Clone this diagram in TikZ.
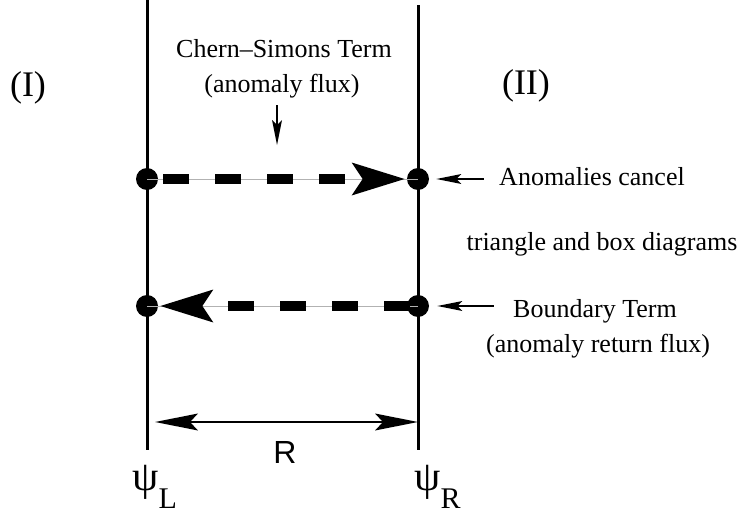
\documentclass[tikz,border=0pt]{standalone}
\usepackage{fontspec}
\setmainfont{Liberation Serif}
\newfontfamily\sanslabel{Liberation Sans}
\usetikzlibrary{arrows.meta}

\tikzset{
  wall/.style={line width=1.5pt},
  dot/.style={circle,fill=black,inner sep=0pt,minimum size=11pt},
  flux/.style={line width=5pt,dash pattern=on 13pt off 13pt,
    -{Stealth[length=26.5pt,width=16.5pt,inset=5.5pt,line width=0pt]}},
  guide/.style={line width=0.5pt,black!30},
  span/.style={line width=1.4pt,
    {Stealth[length=21.5pt,width=8.5pt,inset=4pt,line width=0pt]}-{Stealth[length=21.5pt,width=8.5pt,inset=4pt,line width=0pt]}},
  pointer/.style={line width=0.7pt,-{Stealth[length=12.5pt,width=5pt,inset=2.5pt,line width=0pt]}},
  txt/.style={inner sep=0pt,anchor=base,font=\fontsize{13}{15}\selectfont},
  region/.style={inner sep=0pt,anchor=base,font=\fontsize{18}{20}\selectfont},
  psilabel/.style={inner sep=0pt,anchor=base west,font=\fontsize{21}{23}\selectfont},
}
\newcommand{\psisub}[1]{ψ\raisebox{-9pt}{\fontsize{15}{17}\selectfont #1}}

\begin{document}
\begin{tikzpicture}[x=0.5pt,y=-0.5pt]
  \useasboundingbox (0,0) rectangle (741,514);

  % the two walls
  \draw[wall] (147,0) -- (147,450);
  \draw[wall] (418,5) -- (418,450);

  \node[dot] (lt) at (147,179) {};
  \node[dot] (rt) at (418,179) {};
  \node[dot] (lb) at (147,306) {};
  \node[dot] (rb) at (418,306) {};

  % flux lines
  \draw[guide] (lt.center) -- (rt.center);
  \draw[guide] (lb.center) -- (rb.center);
  \draw[flux,shorten <=2.5pt,shorten >=1pt] (lt) -- (rt);
  \draw[flux,shorten <=-1.5pt,shorten >=1pt] (rb) -- (lb);

  \node[region] (one) at (28,97) {(I)};
  \node[region] (two) at (526,95) {(II)};

  \node[txt] (cs) at (284,57) {Chern–Simons Term};
  \node[txt] (csflux) at (282,92) {(anomaly flux)};
  \coordinate (cstip) at (277,145);
  \draw[pointer,shorten <=3.5pt] (cstip |- csflux.south) -- (cstip);

  \node[txt] (anom) at (592,185) {Anomalies cancel};
  \draw[pointer,shorten <=7.5pt,shorten >=3.5pt] (anom.west |- rt) -- (rt);
  \node[txt] (tri) at (602,250) {triangle and box diagrams};
  \node[txt] (bdry) at (595,317) {Boundary Term};
  \draw[pointer,shorten <=9.5pt,shorten >=4pt] (bdry.west |- rb) -- (rb);
  \node[txt] (ret) at (598,352) {(anomaly return flux)};

  % separation
  \coordinate (sl) at (155,422);
  \coordinate (sr) at (418,422);
  \draw[span] (sl) -- (sr);
  \node[inner sep=0pt,anchor=base,font=\sanslabel\fontsize{16}{18}\selectfont] (dist) at (285,463) {R};

  \node[psilabel] (psil) at (132,490) {\psisub{L}};
  \node[psilabel] (psir) at (414,490) {\psisub{R}};
\end{tikzpicture}
\end{document}
